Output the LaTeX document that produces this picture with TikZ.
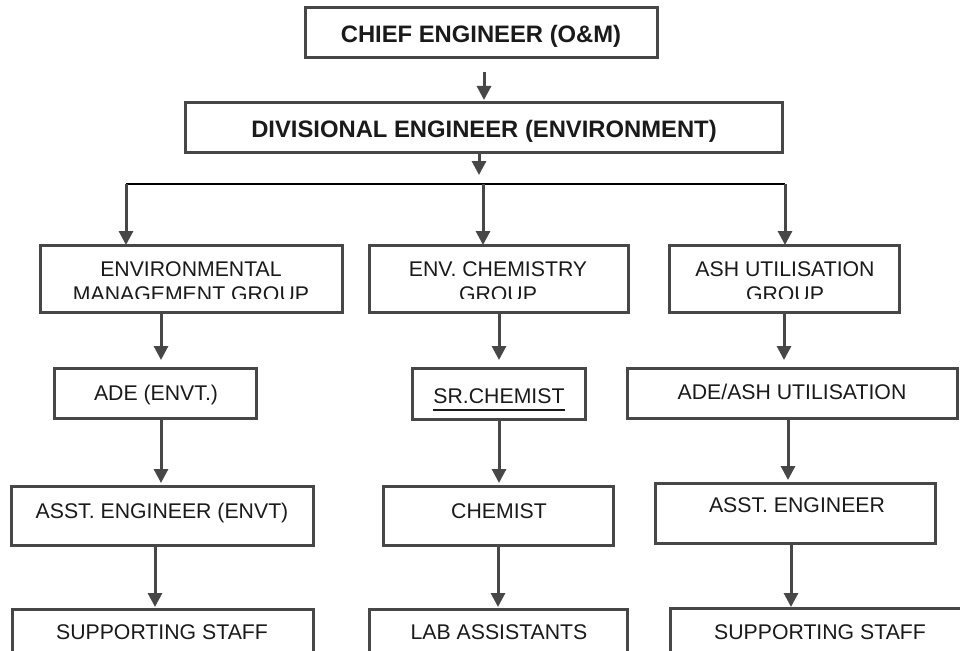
\documentclass[tikz,border=0pt]{standalone}
\usepackage{fontspec}
\setmainfont{Liberation Sans}
\usetikzlibrary{arrows.meta}

\definecolor{frame}{HTML}{474747}
\definecolor{ink}{HTML}{1A1A1A}

\tikzset{
  orgbox/.style={draw=frame, line width=3pt, inner sep=0pt, outer sep=0pt, fill=white},
  lbl/.style={inner sep=0pt, text=ink, font=\fontsize{21.25pt}{25pt}\selectfont},
  head/.style={inner sep=0pt, text=ink, font=\fontsize{23.8pt}{28pt}\selectfont\bfseries},
  arr/.style={draw=frame, line width=3pt, -{Triangle[length=14pt, width=14pt]}},
  bus/.style={draw=black, line width=1.6pt},
}

% box given by its corners (x1,y1) and (x2,y2)
\newcommand\orgbox[5]{%
  \node[orgbox, minimum width={#4-#2}, minimum height={#5-#3}]
    (#1) at ({(#2+#4)/2},{(#3+#5)/2}) {};}

\begin{document}
\begin{tikzpicture}[x=1pt, y=-1pt]
  \path[use as bounding box] (0,0) rectangle (960,650);
  \clip (0,0) rectangle (960,650);
  \fill[white] (0,0) rectangle (960,650);

  % --- top of the hierarchy
  \orgbox{chief}{305}{8}{657}{58}
  \node[head, anchor=base] (chief-t) at (481,43) {CHIEF ENGINEER (O\&M)};

  \orgbox{div}{185}{103}{782}{152}
  \node[head, anchor=base] (div-t) at (484,137) {DIVISIONAL ENGINEER (ENVIRONMENT)};

  % --- the three groups (second text line is cut off by its frame)
  \orgbox{emg}{40}{245}{342}{312}
  \orgbox{chem}{369}{245}{628}{312}
  \orgbox{ash}{669}{245}{899}{312}
  \begin{scope}
    \clip (0,247) rectangle (960,298);
    \node[lbl, align=center, anchor=base] (emg-t) at (191,301) {ENVIRONMENTAL\\MANAGEMENT GROUP};
    \node[lbl, align=center, anchor=base] (chem-t) at (498,301) {ENV. CHEMISTRY\\GROUP};
    \node[lbl, align=center, anchor=base] (ash-t) at (785,301) {ASH UTILISATION\\GROUP};
  \end{scope}

  % --- second level
  \orgbox{ade}{54}{368}{256}{418}
  \node[lbl, anchor=base] (ade-t) at (156,400) {ADE (ENVT.)};
  \orgbox{sr}{412}{368}{585}{419}
  \node[lbl, anchor=base] (sr-t) at (499,403) {SR.CHEMIST};
  \draw[ink, line width=1.6pt] ([yshift=-7pt]sr-t.base west) -- ([yshift=-7pt]sr-t.base east);
  \orgbox{adeash}{627}{368}{957}{418}
  \node[lbl, anchor=base] (adeash-t) at (792,399) {ADE/ASH UTILISATION};

  % --- third level
  \orgbox{asst1}{11}{486}{313}{545}
  \node[lbl, anchor=base] (asst1-t) at (162,518) {ASST. ENGINEER (ENVT)};
  \orgbox{chemist}{383}{486}{613}{545}
  \node[lbl, anchor=base] (chemist-t) at (499,518) {CHEMIST};
  \orgbox{asst3}{655}{483}{935}{543}
  \node[lbl, anchor=base] (asst3-t) at (797,512) {ASST. ENGINEER};

  % --- fourth level (runs past the lower edge)
  \orgbox{sup1}{12}{609}{313}{690}
  \node[lbl, anchor=base] (sup1-t) at (162,639) {SUPPORTING STAFF};
  \orgbox{lab}{369}{609}{627}{690}
  \node[lbl, anchor=base] (lab-t) at (499,639) {LAB ASSISTANTS};
  \orgbox{sup3}{670}{608}{1000}{690}
  \node[lbl, anchor=base] (sup3-t) at (820,639) {SUPPORTING STAFF};

  % --- connectors
  \draw[arr, shorten <=14pt, shorten >=3pt] (chief.south -| 484,0) -- (div.north -| 484,0);
  \coordinate (hub) at (479,184);
  \coordinate (busL) at (126,184);
  \coordinate (busM) at (483,184);
  \coordinate (busR) at (785,184);
  \draw[arr, shorten >=9pt] (div.south -| hub) -- (hub);
  \draw[bus] (busL) -- (busR);
  \draw[arr] (busL) -- (emg.north -| busL);
  \draw[arr] (busM) -- (chem.north -| busM);
  \draw[arr] (busR) -- (ash.north -| busR);

  \draw[arr, shorten >=8pt] (emg.south -| 161,0) -- (ade.north -| 161,0);
  \draw[arr, shorten >=3pt] (ade.south -| 161,0) -- (asst1.north -| 161,0);
  \draw[arr, shorten >=2pt] (asst1.south -| 155,0) -- (sup1.north -| 155,0);

  \draw[arr, shorten >=8pt] (chem.south -| 499,0) -- (sr.north -| 499,0);
  \draw[arr, shorten >=3pt] (sr.south -| 499,0) -- (chemist.north -| 499,0);
  \draw[arr, shorten >=2pt] (chemist.south -| 498,0) -- (lab.north -| 498,0);

  \draw[arr, shorten >=8pt] (ash.south -| 784,0) -- (adeash.north -| 784,0);
  \draw[arr, shorten >=3pt] (adeash.south -| 788,0) -- (asst3.north -| 788,0);
  \draw[arr, shorten >=1pt] (asst3.south -| 791,0) -- (sup3.north -| 791,0);
\end{tikzpicture}
\end{document}
